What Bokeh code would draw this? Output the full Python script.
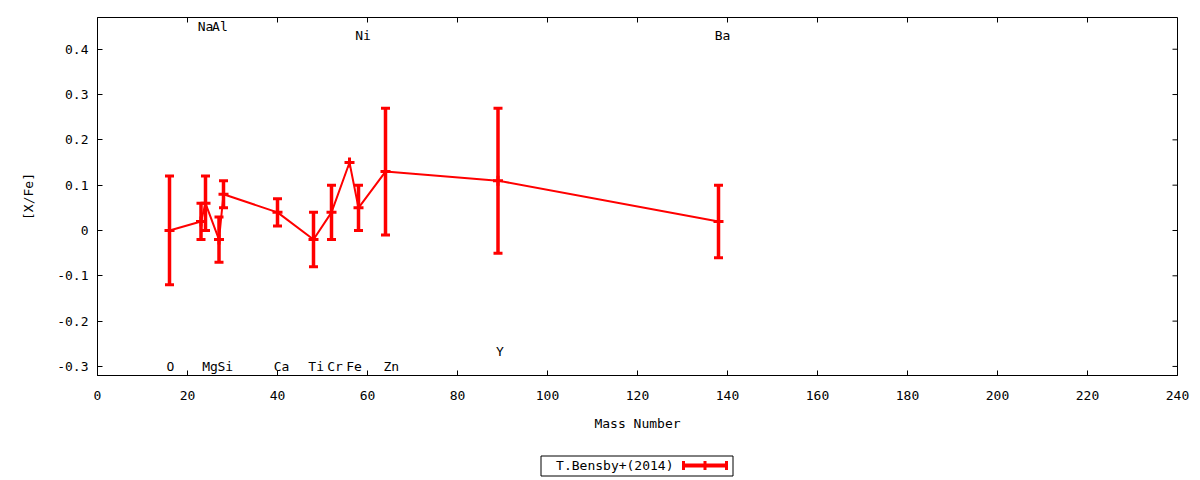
import math
from bokeh.plotting import figure
from bokeh.models import Range1d, FixedTicker
from bokeh.layouts import column
from bokeh.embed import file_html
from bokeh.resources import INLINE
from bokeh.core.properties import value

# ---- data ----
elements = ["O", "Na", "Mg", "Al", "Si", "Ca", "Ti", "Cr", "Fe", "Ni", "Zn", "Y", "Ba"]
mass = [16, 23, 24, 27, 28, 40, 48, 52, 56, 58, 64, 89, 138]
xfe = [0.00, 0.02, 0.06, -0.02, 0.08, 0.04, -0.02, 0.04, 0.15, 0.05, 0.13, 0.11, 0.02]
err = [0.12, 0.04, 0.06, 0.05, 0.03, 0.03, 0.06, 0.06, 0.0, 0.05, 0.14, 0.16, 0.08]
label_x = [16.2, 24.0, 25.0, 27.2, 28.4, 40.9, 48.6, 52.8, 57.0, 59.0, 65.3, 89.4, 138.9]
label_y = [-0.30, 0.45, -0.30, 0.45, -0.30, -0.30, -0.30, -0.30, -0.30, 0.43, -0.30, -0.267, 0.43]

x_min, x_max = 0, 240
y_min, y_max = -0.32, 0.47
x_ticks = [0, 20, 40, 60, 80, 100, 120, 140, 160, 180, 200, 220, 240]
y_ticks = [-0.3, -0.2, -0.1, 0, 0.1, 0.2, 0.3, 0.4]
y_tick_labels = ["-0.3", "-0.2", "-0.1", "0", "0.1", "0.2", "0.3", "0.4"]

series_name = "T.Bensby+(2014)"
x_title = "Mass Number"
y_title = "[X/Fe]"

FONT = "DejaVu Sans Mono"
FS = "13px"
RED = "#ff0000"

lo = [v - e for v, e in zip(xfe, err)]
hi = [v + e for v, e in zip(xfe, err)]

p = figure(width=1200, height=448, x_range=Range1d(x_min, x_max), y_range=Range1d(y_min, y_max),
           toolbar_location=None, output_backend="svg",
           min_border_left=97, min_border_right=23, min_border_top=17, min_border_bottom=73)
p.xgrid.visible = False
p.ygrid.visible = False
p.outline_line_color = "black"
p.outline_line_width = 1
p.background_fill_color = "white"
p.border_fill_color = "white"

xa = p.xaxis[0]
ya = p.yaxis[0]
xa.ticker = FixedTicker(ticks=x_ticks)
ya.ticker = FixedTicker(ticks=y_ticks)
ya.major_label_overrides = {t: l for t, l in zip(y_ticks, y_tick_labels)}
for ax in (xa, ya):
    ax.major_tick_in = 5
    ax.major_tick_out = 0
    ax.minor_tick_line_color = None
    ax.major_label_text_font = FONT
    ax.major_label_text_font_size = FS
    ax.major_label_text_color = "black"
    ax.axis_label_text_font = FONT
    ax.axis_label_text_font_size = FS
    ax.axis_label_text_font_style = "normal"
    ax.axis_label_text_color = "black"
    ax.axis_line_color = "black"
    ax.major_tick_line_color = "black"
xa.axis_label = x_title
ya.axis_label = y_title
xa.major_label_standoff = 15
xa.axis_label_standoff = 13
ya.major_label_standoff = 9
ya.axis_label_standoff = 18

# mirrored tick marks on top and right edges (half of each mark is clipped by the frame)
p.scatter(x_ticks, [y_max] * len(x_ticks), marker="dash", angle=math.pi / 2, size=10,
          line_color="black", line_width=1)
p.scatter([x_max] * len(y_ticks), y_ticks, marker="dash", size=10,
          line_color="black", line_width=1)

# data
p.line(mass, xfe, line_color=RED, line_width=2)
p.segment(x0=mass, y0=lo, x1=mass, y1=hi, line_color=RED, line_width=3.5)
p.scatter(mass, lo, marker="dash", size=9, line_color=RED, line_width=3)
p.scatter(mass, hi, marker="dash", size=9, line_color=RED, line_width=3)
p.scatter(mass, xfe, marker="cross", size=10, line_color=RED, line_width=3)

p.text(label_x, label_y, text=elements, text_font=value(FONT), text_font_size=value(FS),
       text_align="center", text_baseline="middle", text_color="black")

# legend strip below the plot; its frame is aligned with the plot frame (page x 97..1177)
lf = figure(width=1200, height=32, x_range=Range1d(97, 1177), y_range=Range1d(32, 0),
            x_axis_location=None, y_axis_location=None, title=None,
            toolbar_location=None, output_backend="svg",
            min_border_left=97, min_border_right=23, min_border_top=0, min_border_bottom=0)
lf.xgrid.visible = False
lf.ygrid.visible = False
lf.outline_line_color = None
lf.border_fill_color = "white"
lf.quad(left=[540.5], right=[732.5], top=[7.5], bottom=[27.5], fill_color=None,
        line_color="black", line_width=1)
lf.text([673], [17], text=[series_name], text_font=value(FONT), text_font_size=value(FS),
        text_align="right", text_baseline="middle", text_color="black")
lf.segment(x0=[683], y0=[17], x1=[726], y1=[17], line_color=RED, line_width=4)
lf.segment(x0=[683, 704.5, 726], y0=[12.5, 12.5, 12.5], x1=[683, 704.5, 726], y1=[21.5, 21.5, 21.5],
           line_color=RED, line_width=3)

layout = column(p, lf, spacing=0)
open("out.html", "w").write(file_html(layout, INLINE))
